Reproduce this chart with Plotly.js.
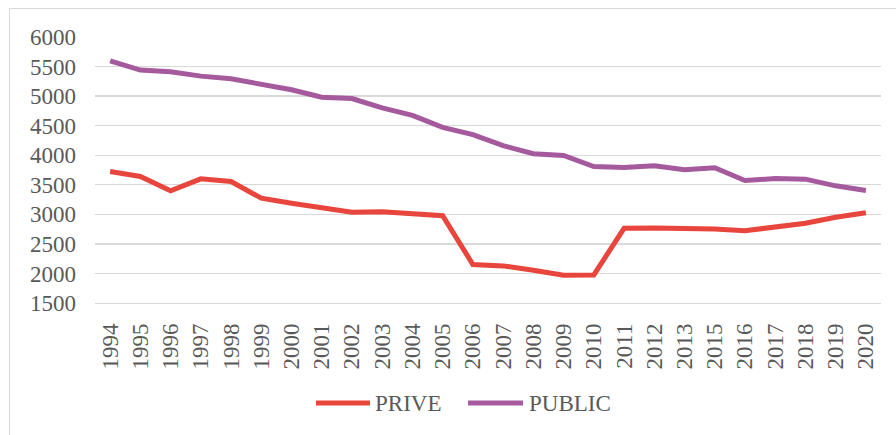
<!DOCTYPE html>
<html>
<head>
<meta charset="utf-8">
<script src="https://cdn.plot.ly/plotly-3.0.1.min.js"></script>
<style>
  html, body { margin: 0; padding: 0; background: #fff; }
  #wrap { position: relative; width: 896px; height: 435px; }
  #chart { width: 896px; height: 435px; }
  #frame { position: absolute; left: 9px; top: 8px; width: 900px; height: 440px;
           border-left: 1.5px solid #d9d9d9; border-top: 1.5px solid #d9d9d9;
           pointer-events: none; }
</style>
</head>
<body>
<div id="wrap">
  <div id="chart"></div>
  <div id="frame"></div>
</div>
<script>
const years = ["1994","1995","1996","1997","1998","1999","2000","2001","2002","2003",
  "2004","2005","2006","2007","2008","2009","2010","2011","2012","2013",
  "2015","2016","2017","2018","2019","2020"];
const prive = [3724, 3640, 3397, 3600, 3555, 3273, 3188, 3120, 3035, 3045,
  3018, 2977, 2152, 2128, 2055, 1970, 1975, 2763, 2768, 2763,
  2751, 2723, 2790, 2848, 2950, 3028];
const publicVals = [5595, 5440, 5412, 5338, 5293, 5208, 5107, 4981, 4959, 4801,
  4675, 4470, 4348, 4161, 4025, 3996, 3809, 3792, 3821, 3753,
  3787, 3572, 3606, 3595, 3482, 3402];
const yTicks = [1500, 2000, 2500, 3000, 3500, 4000, 4500, 5000, 5500, 6000];
const seriesNames = ['PRIVE', 'PUBLIC'];
const seriesColors = ['#E8453C', '#A65A9E'];

const font = {family: '"Liberation Serif", "Times New Roman", serif', color: '#595959', size: 23};

const traces = [
  {x: years, y: prive, name: seriesNames[0], type: 'scatter', mode: 'lines',
   line: {color: seriesColors[0], width: 5}},
  {x: years, y: publicVals, name: seriesNames[1], type: 'scatter', mode: 'lines',
   line: {color: seriesColors[1], width: 5}}
];

// custom legend (longer line samples, like the original)
const legY = -0.376;
const legItems = [{x0: 0.2812, x1: 0.3499, tx: 0.3537}, {x0: 0.4746, x1: 0.5445, tx: 0.5496}];
const shapes = legItems.map((it, i) => ({type: 'line', xref: 'paper', yref: 'paper',
  x0: it.x0, x1: it.x1, y0: legY, y1: legY,
  line: {color: seriesColors[i], width: 5, cap: 'round'}}));
const annotations = legItems.map((it, i) => ({xref: 'paper', yref: 'paper', x: it.tx, y: legY,
  xanchor: 'left', yanchor: 'middle', text: seriesNames[i], showarrow: false, font: font}));

const layout = {
  width: 896, height: 435,
  margin: {l: 95, r: 15, t: 37, b: 132},
  paper_bgcolor: '#ffffff', plot_bgcolor: '#ffffff',
  font: font,
  showlegend: false,
  shapes: shapes,
  annotations: annotations,
  xaxis: {type: 'category', range: [-0.5, 25.5], tickangle: -90, showgrid: false, ticks: '',
          showline: true, linecolor: '#d9d9d9', linewidth: 1.3, automargin: false,
          tickfont: font, ticklabelstandoff: 10, fixedrange: true},
  yaxis: {range: [1500, 6000], tickvals: yTicks, ticktext: yTicks.map(String), automargin: false,
          showgrid: true, gridcolor: '#d9d9d9', gridwidth: 1.3, zeroline: false,
          showline: false, ticks: '', tickfont: font, ticklabelstandoff: 18, fixedrange: true}
};

Plotly.newPlot('chart', traces, layout, {displayModeBar: false, staticPlot: true});
</script>
</body>
</html>
